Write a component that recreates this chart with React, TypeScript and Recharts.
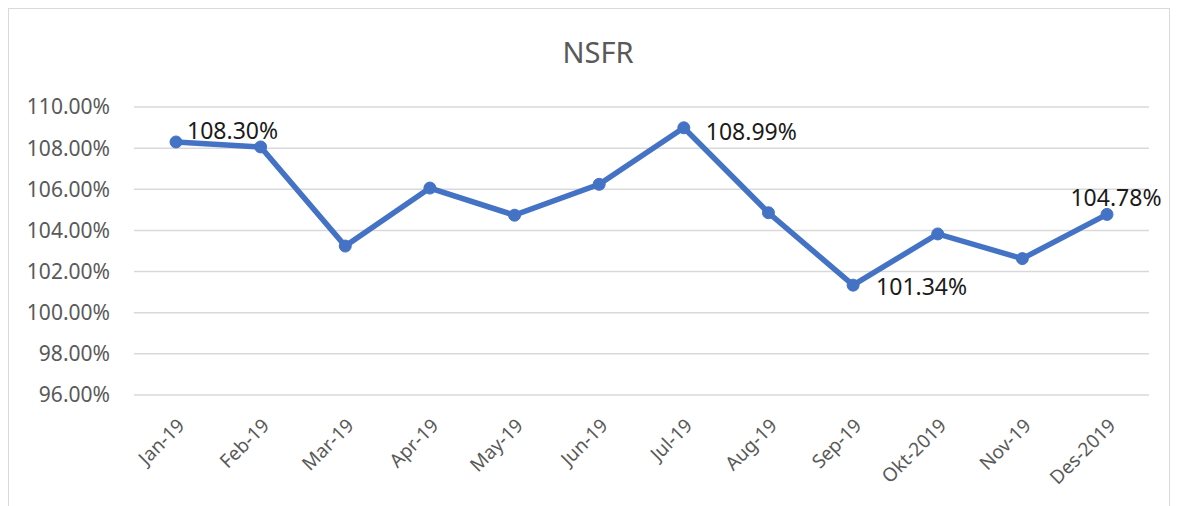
import React from 'react'
import { LineChart, Line, XAxis, YAxis, CartesianGrid, LabelList } from 'recharts'

const months = ['Jan-19', 'Feb-19', 'Mar-19', 'Apr-19', 'May-19', 'Jun-19', 'Jul-19', 'Aug-19', 'Sep-19', 'Okt-2019', 'Nov-19', 'Des-2019']
const nsfr = [108.3, 108.06, 103.24, 106.06, 104.74, 106.24, 108.99, 104.86, 101.34, 103.83, 102.63, 104.78]
const yTicks = [96, 98, 100, 102, 104, 106, 108, 110]

// which points carry a data label, and where it sits
const labelSpots: Record<number, { dx: number; dy: number; anchor: 'start' | 'middle' }> = {
  0: { dx: 11, dy: -12, anchor: 'start' },
  6: { dx: 22, dy: 3, anchor: 'start' },
  8: { dx: 23, dy: 1, anchor: 'start' },
  11: { dx: 9, dy: -17, anchor: 'middle' },
}

const data = months.map((m, i) => ({ month: m, nsfr: nsfr[i] }))

const FONT = '"Noto Sans", sans-serif'

const MonthTick = (props: any) => {
  const { x, y, payload } = props
  return (
    <g transform={`translate(${x + 5},${y + 19})`}>
      <text textAnchor="end" transform="rotate(-45)" dy="0.35em" fill="#595959" fontSize={19} fontFamily={FONT}>
        {payload.value}
      </text>
    </g>
  )
}

const PointLabel = (props: any) => {
  const { x, y, value, index } = props
  const spot = labelSpots[index]
  if (!spot) return null
  return (
    <text
      x={x + spot.dx}
      y={y + spot.dy}
      textAnchor={spot.anchor}
      dominantBaseline="central"
      fill="#1a1a1a"
      fontSize={23}
      fontFamily={FONT}
    >
      {Number(value).toFixed(2)}%
    </text>
  )
}

export default function App() {
  return (
    <div
      style={{
        position: 'relative',
        width: 1160,
        height: 497,
        border: '1px solid #d9d9d9',
        background: '#fff',
        fontFamily: FONT,
      }}
    >
      <div
        style={{
          position: 'absolute',
          left: 589,
          top: 25,
          transform: 'translateX(-50%)',
          fontSize: 29,
          lineHeight: '36px',
          color: '#595959',
        }}
      >
        NSFR
      </div>
      <LineChart width={1160} height={497} data={data} margin={{ top: 98, right: 20, left: 0, bottom: 0 }}>
        <CartesianGrid vertical={false} stroke="#d9d9d9" strokeWidth={1.5} />
        <XAxis
          dataKey="month"
          axisLine={false}
          tickLine={false}
          interval={0}
          height={111}
          padding={{ left: 42, right: 42 }}
          tick={<MonthTick />}
        />
        <YAxis
          domain={[96, 110]}
          ticks={yTicks}
          width={125}
          axisLine={false}
          tickLine={false}
          tickSize={0}
          tickMargin={24}
          tickFormatter={(v: number) => `${v.toFixed(2)}%`}
          tick={{ fill: '#595959', fontSize: 21, fontFamily: FONT }}
        />
        <Line
          type="linear"
          dataKey="nsfr"
          stroke="#4472C4"
          strokeWidth={5.5}
          dot={{ r: 6, fill: '#4472C4', stroke: '#4472C4', strokeWidth: 1 }}
          isAnimationActive={false}
        >
          <LabelList dataKey="nsfr" content={<PointLabel />} />
        </Line>
      </LineChart>
    </div>
  )
}
